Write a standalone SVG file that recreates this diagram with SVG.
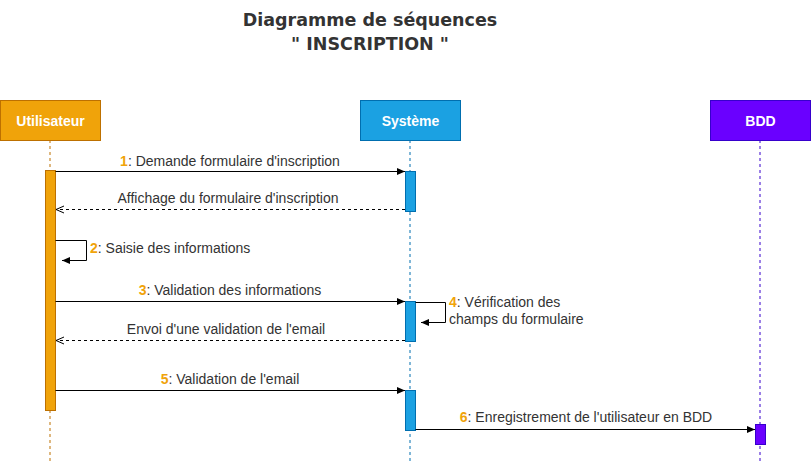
<svg xmlns="http://www.w3.org/2000/svg" width="811" height="462" viewBox="0 0 811 462">
<style>
.title{font-family:"DejaVu Sans",Verdana,sans-serif;font-weight:bold;font-size:17.5px;fill:#333333;text-anchor:middle}
.hdr{font-family:"Liberation Sans",Arial,sans-serif;font-weight:bold;font-size:14px;fill:#ffffff;text-anchor:middle}
.lbl{font-family:"Liberation Sans",Arial,sans-serif;font-size:14px;fill:#333333}
.num{font-weight:bold;fill:#F0A30A}
.msg{fill:none;stroke:#000000;stroke-width:1}
.ret{fill:none;stroke:#000000;stroke-width:1;stroke-dasharray:3,3}
.life{fill:none;stroke-width:1;stroke-dasharray:3,3}
</style>
<defs>
<marker id="block" markerWidth="10" markerHeight="10" refX="9" refY="5" orient="auto" markerUnits="userSpaceOnUse">
<path d="M1,1.5 L9,5 L1,8.5 Z" fill="#000000"/>
</marker>
<marker id="open" markerWidth="10" markerHeight="10" refX="9" refY="5" orient="auto" markerUnits="userSpaceOnUse">
<path d="M1,1.5 L9,5 L1,8.5" fill="none" stroke="#000000"/>
</marker>
</defs>
<rect width="811" height="462" fill="#ffffff"/>
<text class="title" x="370" y="26">Diagramme de séquences</text>
<text class="title" x="370" y="50">" INSCRIPTION "</text>

<g id="lifelines">
<line class="life" x1="50" y1="140" x2="50" y2="462" stroke="#BD7000"/>
<line class="life" x1="410" y1="140" x2="410" y2="462" stroke="#006EAF"/>
<line class="life" x1="760" y1="140" x2="760" y2="462" stroke="#3700CC"/>
</g>

<g id="utilisateur">
<rect x="0.5" y="100.5" width="100" height="40" fill="#F0A30A" stroke="#BD7000"/>
<text class="hdr" x="50.5" y="125.5">Utilisateur</text>
</g>
<g id="systeme">
<rect x="360.5" y="100.5" width="100" height="40" fill="#1BA1E2" stroke="#006EAF"/>
<text class="hdr" x="410.5" y="125.5">Système</text>
</g>
<g id="bdd">
<rect x="710.5" y="100.5" width="100" height="40" fill="#6A00FF" stroke="#3700CC"/>
<text class="hdr" x="760.5" y="125.5">BDD</text>
</g>

<g id="activation-utilisateur">
<rect x="45.5" y="170.5" width="10" height="240" fill="#F0A30A" stroke="#BD7000"/>
</g>
<g id="activation-systeme-1">
<rect x="405.5" y="171.5" width="10" height="40" fill="#1BA1E2" stroke="#006EAF"/>
</g>
<g id="activation-systeme-2">
<rect x="405.5" y="301.5" width="10" height="40" fill="#1BA1E2" stroke="#006EAF"/>
</g>
<g id="activation-systeme-3">
<rect x="405.5" y="390.5" width="10" height="40" fill="#1BA1E2" stroke="#006EAF"/>
</g>
<g id="activation-bdd">
<rect x="755.5" y="424.5" width="10" height="20" fill="#6A00FF" stroke="#3700CC"/>
</g>

<g id="connectors">
<line class="msg" x1="55.5" y1="171.5" x2="405" y2="171.5" marker-end="url(#block)"/>
<line class="ret" x1="405" y1="209.5" x2="56" y2="209.5" marker-end="url(#open)"/>
<polyline class="msg" points="55.5,240.5 86.5,240.5 86.5,260.5 62,260.5" marker-end="url(#block)"/>
<line class="msg" x1="55.5" y1="301.5" x2="405" y2="301.5" marker-end="url(#block)"/>
<polyline class="msg" points="415.5,302.5 445.5,302.5 445.5,322.5 421,322.5" marker-end="url(#block)"/>
<line class="ret" x1="405" y1="340.5" x2="56" y2="340.5" marker-end="url(#open)"/>
<line class="msg" x1="55.5" y1="390.5" x2="405" y2="390.5" marker-end="url(#block)"/>
<line class="msg" x1="415.5" y1="429.5" x2="755" y2="429.5" marker-end="url(#block)"/>
</g>

<g id="labels">
<text class="lbl" x="230" y="165.5" text-anchor="middle"><tspan class="num">1</tspan>: Demande formulaire d'inscription</text>
<text class="lbl" x="228" y="203" text-anchor="middle">Affichage du formulaire d'inscription</text>
<text class="lbl" x="90" y="252.5"><tspan class="num">2</tspan>: Saisie des informations</text>
<text class="lbl" x="230" y="295" text-anchor="middle"><tspan class="num">3</tspan>: Validation des informations</text>
<text class="lbl" x="449" y="307"><tspan class="num">4</tspan>: Vérification des</text>
<text class="lbl" x="449" y="324">champs du formulaire</text>
<text class="lbl" x="226" y="334" text-anchor="middle">Envoi d'une validation de l'email</text>
<text class="lbl" x="230" y="384" text-anchor="middle"><tspan class="num">5</tspan>: Validation de l'email</text>
<text class="lbl" x="586" y="421.5" text-anchor="middle"><tspan class="num">6</tspan>: Enregistrement de l'utilisateur en BDD</text>
</g>
</svg>
